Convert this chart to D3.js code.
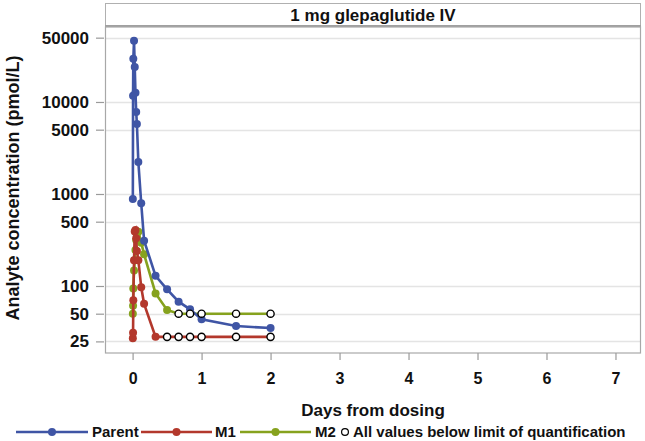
<!DOCTYPE html>
<html><head><meta charset="utf-8">
<script src="https://cdn.jsdelivr.net/npm/d3@7"></script>
<style>body{margin:0;background:#fff}svg{display:block}text{font-family:"Liberation Sans",Arial,sans-serif;font-weight:bold}</style>
</head><body><svg id="c" width="645" height="441"></svg>
<script>
const panelTitle = "1 mg glepaglutide IV";
const times = [0.0035, 0.0069, 0.0104, 0.0208, 0.0313, 0.0417, 0.0521, 0.0625, 0.0833, 0.125, 0.1667, 0.333, 0.5, 0.667, 0.833, 1.0, 1.5, 2.0];
const parent = [883, 11700, 29500, 46300, 24000, 12600, 7780, 5770, 2230, 793, 311, 129, 92, 67.6, 55.8, 43.4, 36.7, 34.9];
const m1 = [27, 31, 70, 190, 390, 406, 330, 240, 191, 97, 64, 28, 28, 28, 28, 28, 28, 28];
const m1Blq = [0,0,0,0,0,0,0,0,0,0,0,0,1,1,1,1,1,1];
const m2 = [50, 61, 94, 147, 191, 246, 316, 374, 389, 296, 221, 83, 55, 50, 50, 50, 50, 50];
const m2Blq = [0,0,0,0,0,0,0,0,0,0,0,0,0,1,1,1,1,1];
const parentBlq = times.map(() => 0);
const yTicks = [25, 50, 100, 500, 1000, 5000, 10000, 50000];
const xTicks = [0, 1, 2, 3, 4, 5, 6, 7];
const seriesNames = ["Parent", "M1", "M2"];
const seriesColors = ["#3f55a5", "#b3382c", "#86a21e"];
const blqLabel = "All values below limit of quantification";
const xTitle = "Days from dosing";
const yTitle = "Analyte concentration (pmol/L)";

const svg = d3.select("#c");
const L = 105, R = 641, T = 27, B = 353, HT = 3;
const x = d3.scaleLinear().domain([-0.4, 7.37]).range([L, R]);
const y = d3.scaleLog().domain([18.7, 65300]).range([B, T]);

// header
svg.append("rect").attr("x", L + 0.5).attr("y", HT + 0.5).attr("width", R - L - 1).attr("height", T - HT - 2)
  .attr("fill", "#fff").attr("stroke", "#b0b0b0");
svg.append("line").attr("x1", L).attr("x2", R).attr("y1", T - 1).attr("y2", T - 1).attr("stroke", "#a0a0a0").attr("stroke-width", 2);
svg.append("text").attr("x", (L + R) / 2).attr("y", HT + 18).attr("text-anchor", "middle")
  .attr("font-size", 17).attr("fill", "#111").text(panelTitle);

// gridlines
svg.append("g").selectAll("line").data(yTicks).join("line")
  .attr("x1", L).attr("x2", R).attr("y1", d => Math.round(y(d)) + 0.5).attr("y2", d => Math.round(y(d)) + 0.5)
  .attr("stroke", "#e4e4e4").attr("stroke-width", 1.5);

// frame
svg.append("rect").attr("x", L + 0.5).attr("y", T).attr("width", R - L - 1).attr("height", B - T)
  .attr("fill", "none").attr("stroke", "#a8a8a8").attr("stroke-width", 1.2);

// axes
const yAxis = d3.axisLeft(y).tickValues(yTicks).tickFormat(d3.format("d")).tickSize(8).tickPadding(7);
const gy = svg.append("g").attr("transform", `translate(${L - 1},0)`).call(yAxis);
const xAxis = d3.axisBottom(x).tickValues(xTicks).tickFormat(d3.format("d")).tickSize(7).tickPadding(13);
const gx = svg.append("g").attr("transform", `translate(0,${B})`).call(xAxis);
[gx, gy].forEach(g => {
  g.select(".domain").remove();
  g.selectAll(".tick line").attr("stroke", "#9a9a9a").attr("stroke-width", 1.2);
  g.selectAll(".tick text").attr("fill", "#111").attr("font-family", "Liberation Sans, Arial, sans-serif").attr("font-weight", "bold");
});
gx.selectAll(".tick text").attr("font-size", 16);
gy.selectAll(".tick text").attr("font-size", 17);

// titles
svg.append("text").attr("x", (L + R) / 2).attr("y", 416).attr("text-anchor", "middle").attr("font-size", 17).attr("fill", "#111").text(xTitle);
svg.append("text").attr("transform", `translate(19,${(T + B) / 2 - 2}) rotate(-90)`).attr("text-anchor", "middle")
  .attr("font-size", 18).attr("fill", "#111").text(yTitle);

// series
const series = [
  {name: seriesNames[0], vals: parent, blq: parentBlq, color: seriesColors[0]},
  {name: seriesNames[1], vals: m1, blq: m1Blq, color: seriesColors[1]},
  {name: seriesNames[2], vals: m2, blq: m2Blq, color: seriesColors[2]}
];
const line = d3.line().x(d => x(d.t)).y(d => y(d.v));
const plot = svg.append("g");
[series[2], series[1], series[0]].forEach(s => {
  const pts = times.map((t, i) => ({t, v: s.vals[i], blq: s.blq[i]}));
  plot.append("path").datum(pts).attr("d", line).attr("fill", "none").attr("stroke", s.color)
    .attr("stroke-width", 2.6).attr("stroke-linejoin", "miter").attr("stroke-miterlimit", 8);
  plot.append("g").selectAll("circle").data(pts.filter(p => !p.blq)).join("circle")
    .attr("cx", d => x(d.t)).attr("cy", d => y(d.v)).attr("r", 4).attr("fill", s.color);
});
series.forEach(s => {
  const pts = times.map((t, i) => ({t, v: s.vals[i], blq: s.blq[i]}));
  plot.append("g").selectAll("circle").data(pts.filter(p => p.blq)).join("circle")
    .attr("cx", d => x(d.t)).attr("cy", d => y(d.v)).attr("r", 3.6).attr("fill", "#fff")
    .attr("stroke", "#000").attr("stroke-width", 1.4);
});

// legend
const ly = 432;
const leg = svg.append("g");
const legItems = [
  {x1: 16, x2: 88, tx: 92, s: series[0]},
  {x1: 141, x2: 212, tx: 215, s: series[1]},
  {x1: 240, x2: 311, tx: 315, s: series[2]}
];
legItems.forEach(it => {
  leg.append("line").attr("x1", it.x1).attr("x2", it.x2).attr("y1", ly).attr("y2", ly).attr("stroke", it.s.color).attr("stroke-width", 2.6);
  leg.append("circle").attr("cx", (it.x1 + it.x2) / 2).attr("cy", ly).attr("r", 4).attr("fill", it.s.color);
  leg.append("text").attr("x", it.tx).attr("y", ly + 5).attr("font-size", 15).attr("fill", "#111").text(it.s.name);
});
leg.append("circle").attr("cx", 345).attr("cy", ly).attr("r", 3.4).attr("fill", "#fff").attr("stroke", "#000").attr("stroke-width", 1.2);
leg.append("text").attr("x", 353).attr("y", ly + 5).attr("font-size", 15).attr("fill", "#111").text(blqLabel);
</script></body></html>
